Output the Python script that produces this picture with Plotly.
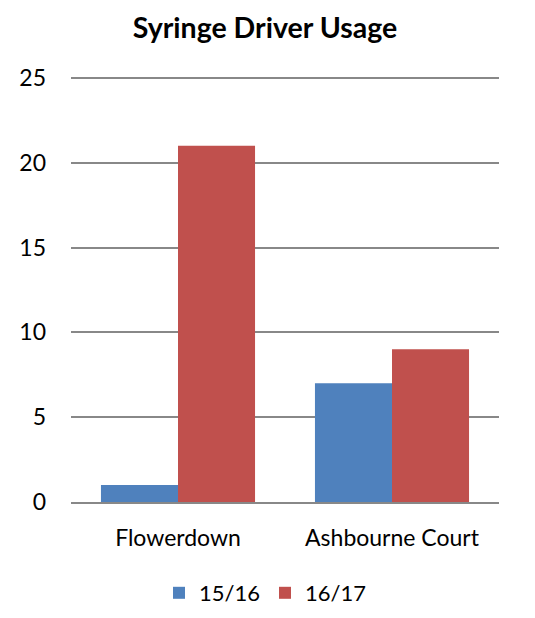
import plotly.graph_objects as go

categories = ["Flowerdown", "Ashbourne Court"]
series_names = ["15/16", "16/17"]
values_1516 = [1, 7]
values_1617 = [21, 9]
y_ticks = [0, 5, 10, 15, 20, 25]

colors = ["#4F81BD", "#C0504D"]
FONT = "Lato"

fig = go.Figure()
for name, vals, c in zip(series_names, [values_1516, values_1617], colors):
    fig.add_trace(go.Bar(x=categories, y=vals, name=name, marker=dict(color=c, line=dict(width=0))))

fig.update_layout(
    width=535, height=618,
    margin=dict(l=71, r=36, t=77, b=116),
    paper_bgcolor="white", plot_bgcolor="white",
    barmode="group", bargap=0.28, bargroupgap=0,
    font=dict(family=FONT, size=23, color="black"),
    title=dict(text="<b>Syringe Driver Usage</b>", x=265/535, xanchor="center",
               xref="container", y=1 - 28/618, yanchor="middle", yref="container",
               font=dict(family=FONT, size=28.5, color="black")),
    showlegend=True,
    legend=dict(orientation="h", xref="container", yref="container",
                x=265/535, xanchor="center", y=1 - 593/618, yanchor="middle",
                font=dict(family=FONT, size=22), itemwidth=30),
)
fig.update_yaxes(range=[0, 25.06], tickvals=y_ticks, showgrid=True, gridcolor="#888888", gridwidth=1.5,
                 zeroline=False, showline=False, ticks="", ticklabelstandoff=24,
                 tickfont=dict(family=FONT, size=23))
fig.update_xaxes(showline=True, linecolor="#888888", linewidth=1.5, ticks="", ticklabelstandoff=15,
                 tickfont=dict(family=FONT, size=23))

fig.write_html("out.html")
